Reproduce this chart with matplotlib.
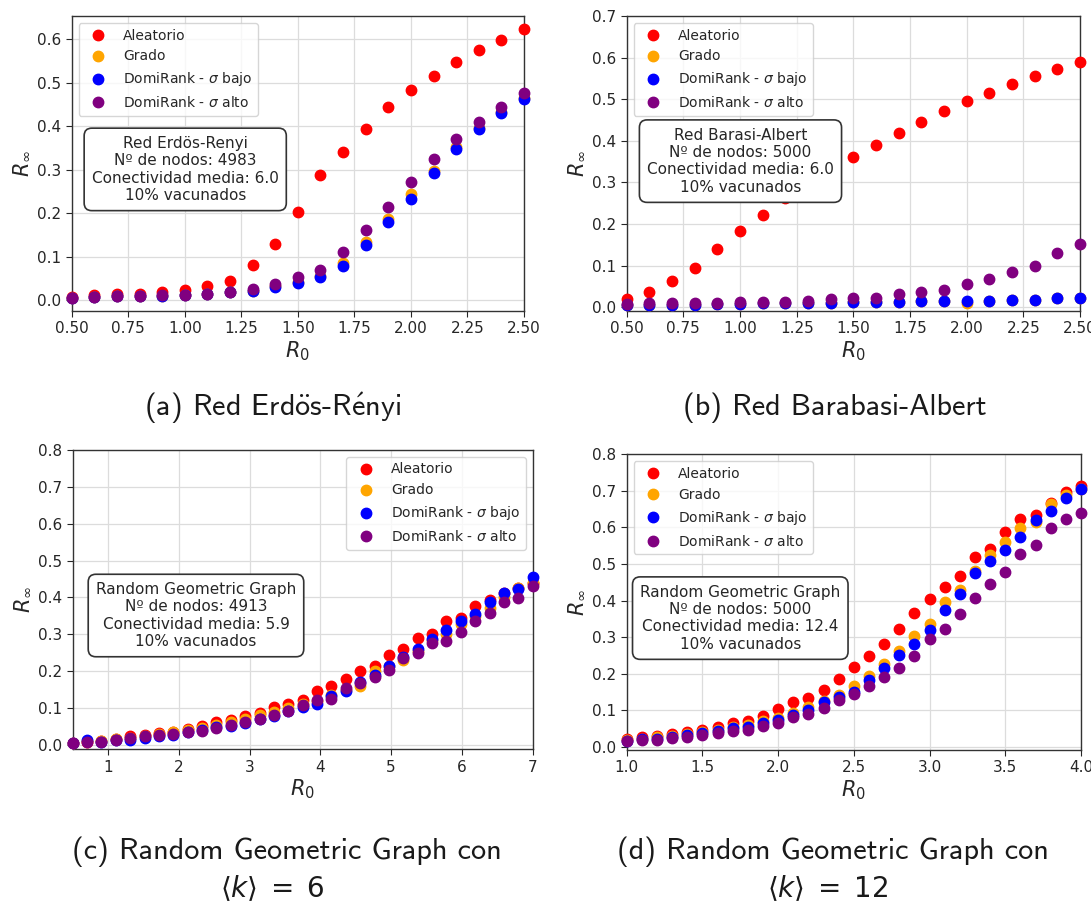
import numpy as np
import matplotlib
matplotlib.use("Agg")
import matplotlib.pyplot as plt

# ---------------- data ----------------
# (a) Erdös-Rényi
r0_er = [0.5, 0.6, 0.7, 0.8, 0.9, 1.0, 1.1, 1.2, 1.3, 1.4, 1.5,
         1.6, 1.7, 1.8, 1.9, 2.0, 2.1, 2.2, 2.3, 2.4, 2.5]
er_aleatorio = [0.007, 0.011, 0.015, 0.015, 0.018, 0.023, 0.032, 0.044, 0.081, 0.130, 0.203,
                0.289, 0.342, 0.393, 0.445, 0.483, 0.516, 0.548, 0.576, 0.598, 0.623]
er_grado = [0.006, 0.007, 0.009, 0.009, 0.010, 0.011, 0.015, 0.018, 0.022, 0.032, 0.042,
            0.056, 0.086, 0.135, 0.186, 0.244, 0.298, 0.352, 0.397, 0.434, 0.466]
er_domi_bajo = [0.006, 0.007, 0.009, 0.009, 0.010, 0.011, 0.015, 0.018, 0.021, 0.030, 0.039,
                0.053, 0.078, 0.128, 0.180, 0.233, 0.292, 0.348, 0.394, 0.431, 0.463]
er_domi_alto = [0.006, 0.007, 0.010, 0.010, 0.013, 0.013, 0.015, 0.019, 0.025, 0.037, 0.053,
                0.069, 0.111, 0.162, 0.215, 0.271, 0.324, 0.370, 0.411, 0.445, 0.476]

# (b) Barabasi-Albert
r0_ba = [0.5, 0.6, 0.7, 0.8, 0.9, 1.0, 1.1, 1.2, 1.3, 1.4, 1.5,
         1.6, 1.7, 1.8, 1.9, 2.0, 2.1, 2.2, 2.3, 2.4, 2.5]
ba_aleatorio = [0.021, 0.036, 0.062, 0.095, 0.140, 0.183, 0.221, 0.262, 0.300, 0.332, 0.361,
                0.390, 0.420, 0.445, 0.472, 0.495, 0.514, 0.537, 0.556, 0.573, 0.589]
ba_grado = [0.006, 0.006, 0.006, 0.006, 0.008, 0.008, 0.010, 0.010, 0.010, 0.010, 0.012,
            0.013, 0.013, 0.014, 0.014, 0.011, 0.016, 0.018, 0.018, 0.022, 0.022]
ba_domi_bajo = [0.006, 0.006, 0.006, 0.006, 0.008, 0.008, 0.010, 0.010, 0.010, 0.010, 0.012,
                0.013, 0.013, 0.014, 0.014, 0.015, 0.016, 0.018, 0.018, 0.022, 0.022]
ba_domi_alto = [0.008, 0.010, 0.010, 0.010, 0.010, 0.013, 0.013, 0.013, 0.015, 0.019, 0.022,
                0.023, 0.033, 0.036, 0.042, 0.056, 0.069, 0.085, 0.100, 0.130, 0.153]

# (c) Random Geometric Graph, <k> = 6
r0_rgg6 = np.linspace(0.5, 7.0, 33)
rgg6_aleatorio = [0.006, 0.009, 0.011, 0.016, 0.023, 0.027, 0.032, 0.036, 0.043, 0.050, 0.061,
                  0.068, 0.077, 0.086, 0.102, 0.111, 0.122, 0.145, 0.161, 0.179, 0.201, 0.213,
                  0.243, 0.261, 0.290, 0.302, 0.336, 0.345, 0.376, 0.393, 0.411, 0.426, 0.440]
rgg6_grado = [0.006, 0.010, 0.011, 0.015, 0.020, 0.025, 0.030, 0.034, 0.040, 0.046, 0.055,
              0.063, 0.070, 0.080, 0.090, 0.100, 0.110, 0.120, 0.135, 0.150, 0.161, 0.200,
              0.215, 0.231, 0.255, 0.285, 0.300, 0.327, 0.350, 0.372, 0.400, 0.425, 0.440]
rgg6_domi_bajo = [0.005, 0.014, 0.009, 0.014, 0.014, 0.018, 0.023, 0.027, 0.034, 0.041, 0.048,
                  0.052, 0.059, 0.070, 0.079, 0.091, 0.102, 0.111, 0.132, 0.145, 0.170, 0.190,
                  0.213, 0.239, 0.259, 0.286, 0.313, 0.336, 0.354, 0.388, 0.411, 0.422, 0.455]
rgg6_domi_alto = [0.006, 0.007, 0.009, 0.014, 0.018, 0.023, 0.027, 0.029, 0.034, 0.039, 0.045,
                  0.054, 0.062, 0.070, 0.080, 0.091, 0.107, 0.121, 0.124, 0.154, 0.168, 0.183,
                  0.204, 0.236, 0.249, 0.277, 0.283, 0.306, 0.336, 0.358, 0.387, 0.399, 0.431]

# (d) Random Geometric Graph, <k> = 12
r0_rgg12 = [1.0, 1.1, 1.2, 1.3, 1.4, 1.5, 1.6, 1.7, 1.8, 1.9, 2.0, 2.1, 2.2, 2.3, 2.4, 2.5,
            2.6, 2.7, 2.8, 2.9, 3.0, 3.1, 3.2, 3.3, 3.4, 3.5, 3.6, 3.7, 3.8, 3.9, 4.0]
rgg12_aleatorio = [0.021, 0.026, 0.030, 0.034, 0.039, 0.046, 0.053, 0.064, 0.070, 0.085, 0.103,
                   0.121, 0.133, 0.155, 0.185, 0.218, 0.247, 0.282, 0.322, 0.367, 0.404, 0.438,
                   0.468, 0.520, 0.542, 0.587, 0.624, 0.633, 0.667, 0.697, 0.713]
rgg12_grado = [0.018, 0.022, 0.026, 0.030, 0.035, 0.040, 0.046, 0.053, 0.060, 0.070, 0.078,
               0.091, 0.108, 0.125, 0.142, 0.166, 0.194, 0.226, 0.263, 0.302, 0.335, 0.396,
               0.430, 0.482, 0.525, 0.560, 0.598, 0.615, 0.663, 0.690, 0.705]
rgg12_domi_bajo = [0.016, 0.020, 0.021, 0.027, 0.032, 0.038, 0.044, 0.050, 0.055, 0.064, 0.073,
                   0.087, 0.101, 0.122, 0.137, 0.149, 0.183, 0.214, 0.251, 0.282, 0.319, 0.374,
                   0.419, 0.475, 0.509, 0.538, 0.575, 0.620, 0.646, 0.680, 0.706]
rgg12_domi_alto = [0.016, 0.018, 0.018, 0.025, 0.027, 0.032, 0.038, 0.043, 0.046, 0.058, 0.064,
                   0.080, 0.089, 0.105, 0.128, 0.144, 0.165, 0.192, 0.214, 0.247, 0.295, 0.322,
                   0.363, 0.407, 0.445, 0.478, 0.526, 0.552, 0.597, 0.623, 0.639]

labels = ["Aleatorio", "Grado", r"DomiRank - $\sigma$ bajo", r"DomiRank - $\sigma$ alto"]
colors = ["red", "orange", "blue", "purple"]

# ---------------- figure ----------------
W, H = 1091, 906
fig = plt.figure(figsize=(W / 100, H / 100), dpi=100)
fig.patch.set_facecolor("white")


def px_axes(left, top, right, bottom):
    return fig.add_axes([left / W, 1 - bottom / H, (right - left) / W, (bottom - top) / H])


panels = [
    dict(rect=(71.7, 16, 524, 311), x=r0_er,
         ys=[er_aleatorio, er_grado, er_domi_bajo, er_domi_alto],
         xlim=(0.5, 2.5), ylim=None, xticks=np.arange(0.5, 2.51, 0.25), xfmt="{:.2f}",
         yticks=np.arange(0, 0.61, 0.1), legend_loc="upper left",
         box="Red Erdös-Renyi\nNº de nodos: 4983\nConectividad media: 6.0\n10% vacunados",
         box_xy=(0.251, 0.48)),
    dict(rect=(626.7, 16, 1080, 311), x=r0_ba,
         ys=[ba_aleatorio, ba_grado, ba_domi_bajo, ba_domi_alto],
         xlim=(0.5, 2.5), ylim=(-0.009, 0.7), xticks=np.arange(0.5, 2.51, 0.25), xfmt="{:.2f}",
         yticks=np.arange(0, 0.71, 0.1), legend_loc="upper left",
         box="Red Barasi-Albert\nNº de nodos: 5000\nConectividad media: 6.0\n10% vacunados",
         box_xy=(0.251, 0.508)),
    dict(rect=(72.7, 450, 532.7, 749.3), x=r0_rgg6,
         ys=[rgg6_aleatorio, rgg6_grado, rgg6_domi_bajo, rgg6_domi_alto],
         xlim=(0.5, 7.0), ylim=(-0.012, 0.8), xticks=np.arange(1, 8), xfmt="{:.0f}",
         yticks=np.arange(0, 0.81, 0.1), legend_loc="upper right",
         box="Random Geometric Graph\nNº de nodos: 4913\nConectividad media: 5.9\n10% vacunados",
         box_xy=(0.268, 0.447)),
    dict(rect=(626.7, 454.3, 1081, 750), x=r0_rgg12,
         ys=[rgg12_aleatorio, rgg12_grado, rgg12_domi_bajo, rgg12_domi_alto],
         xlim=(1.0, 4.0), ylim=(-0.009, 0.8), xticks=np.arange(1.0, 4.01, 0.5), xfmt="{:.1f}",
         yticks=np.arange(0, 0.81, 0.1), legend_loc="upper left",
         box="Random Geometric Graph\nNº de nodos: 5000\nConectividad media: 12.4\n10% vacunados",
         box_xy=(0.25, 0.446)),
]

text_col = "#262626"
for p in panels:
    ax = px_axes(*p["rect"])
    for y, lab, c in zip(p["ys"], labels, colors):
        ax.plot(p["x"], y, "o", color=c, markersize=7.5, label=lab, clip_on=False, zorder=3)
    ax.set_xlim(*p["xlim"])
    if p["ylim"] is not None:
        ax.set_ylim(*p["ylim"])
    ax.set_xticks(p["xticks"])
    ax.set_xticklabels([p["xfmt"].format(v) for v in p["xticks"]])
    ax.set_yticks(p["yticks"])
    ax.set_yticklabels(["{:.1f}".format(v) for v in p["yticks"]])
    ax.grid(True, color="#dcdcdc", linewidth=0.9)
    ax.set_axisbelow(True)
    for s in ax.spines.values():
        s.set_color("#333333")
        s.set_linewidth(1.0)
    ax.tick_params(labelsize=11, colors=text_col, length=4)
    ax.set_xlabel(r"$R_0$", fontsize=15, color=text_col, labelpad=2)
    ax.set_ylabel(r"$R_{\infty}$", fontsize=15, color=text_col, labelpad=4)
    leg = ax.legend(loc=p["legend_loc"], fontsize=10, framealpha=0.8, edgecolor="#cccccc")
    for t in leg.get_texts():
        t.set_color(text_col)
    ax.text(p["box_xy"][0], p["box_xy"][1], p["box"], transform=ax.transAxes,
            ha="center", va="center", fontsize=11, color=text_col, zorder=5,
            bbox=dict(boxstyle="round,pad=0.5", facecolor="white", edgecolor="#333333",
                      linewidth=1.2))

# ---------------- captions ----------------
cap_font = ["cmss10", "DejaVu Sans"]
cap_size = 21.8
cap_col = "#1a1a1a"


def caption(x, y, s, **kw):
    fig.text(x / W, 1 - y / H, s, ha="center", va="center", fontsize=cap_size,
             family=cap_font, color=cap_col, math_fontfamily="cm", **kw)


caption(273, 408, r"(a) Red Erd$\ddot{\mathsf{o}}$s-R$\acute{\mathsf{e}}$nyi")
caption(835, 408, "(b) Red Barabasi-Albert")
caption(287, 852, "(c) Random Geometric Graph con")
caption(833, 852, "(d) Random Geometric Graph con")
fig.text(272 / W, 1 - 888 / H, r"$\langle k\rangle \;=\; 6$", ha="center", va="center",
         fontsize=20, color=cap_col)
fig.text(828 / W, 1 - 888 / H, r"$\langle k\rangle \;=\; 12$", ha="center", va="center",
         fontsize=20, color=cap_col)

fig.savefig("out.png", dpi=100, facecolor="white")
